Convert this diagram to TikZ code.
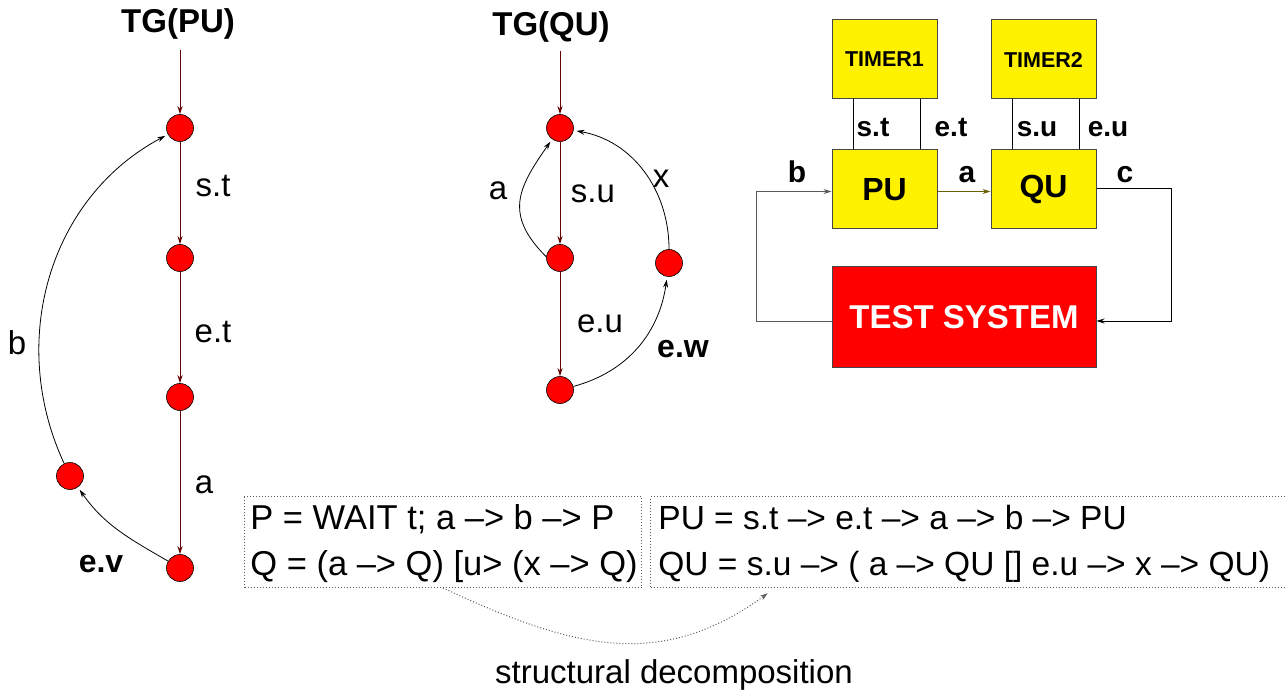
\documentclass[tikz,border=0pt]{standalone}
\usepackage{fontspec}
\setmainfont{Liberation Sans}
\usetikzlibrary{arrows.meta}

\definecolor{tgline}{RGB}{100,0,0}
\definecolor{aline}{RGB}{105,95,0}
\definecolor{fbline}{RGB}{90,90,90}
\definecolor{boxedge}{RGB}{70,70,70}

\tikzset{
    state/.style={circle, draw=black, fill=red, minimum size=27pt, inner sep=0pt, line width=0.6pt},
    lbl/.style={font=\fontsize{33}{40}\selectfont, anchor=base, inner sep=0pt},
    blbl/.style={font=\fontsize{32}{40}\selectfont\bfseries, anchor=base, inner sep=0pt},
    klbl/.style={font=\fontsize{28}{34}\selectfont\bfseries, anchor=base, inner sep=0pt},
    title/.style={font=\fontsize{33}{40}\selectfont\bfseries, anchor=base, inner sep=4pt},
    tedge/.style={->, draw=tgline, line width=1pt},
    cedge/.style={->, draw=black, line width=0.8pt, shorten >=3pt},
    block/.style={draw=boxedge, fill=yellow, line width=1pt, minimum width=105pt, minimum height=79pt, inner sep=0pt},
    eqbox/.style={draw=black!65, dash pattern=on 1pt off 2pt, line width=1pt, inner sep=0pt},
    eq/.style={anchor=base west, inner sep=0pt}
}

\begin{document}
\begin{tikzpicture}[
    x=1pt, y=1pt,
    >={Stealth[length=8pt,width=5pt]},
    line width=0.8pt
]
\useasboundingbox (0,0) rectangle (1287,-692);

% TG(PU)
\node[title] (tgpu) at (178,-33) {TG(PU)};
\node[state] (p1) at (180,-128) {};
\node[state] (p2) at (180,-258) {};
\node[state] (p3) at (180,-397) {};
\node[state] (p4) at (180,-568) {};
\node[state] (p5) at (70,-476) {};

\draw[tedge, shorten <=6pt] (tgpu.south -| p1) -- (p1);
\draw[tedge] (p1) -- (p2);
\draw[tedge] (p2) -- (p3);
\draw[tedge] (p3) -- (p4);
\draw[cedge] (p4) to[out=150, in=-55] (p5);
\draw[cedge] (p5) to[out=115, in=208] (p1);

\node[lbl] (lst) at (213,-197) {s.t};
\node[lbl] (let) at (213,-343) {e.t};
\node[lbl] (la) at (204,-493) {a};
\node[lbl] (lb) at (17,-354) {b};
\node[blbl] (lev) at (101,-572) {e.v};

% TG(QU)
\node[title] (tgqu) at (551,-36) {TG(QU)};
\node[state] (q1) at (560,-128) {};
\node[state] (q2) at (560,-258) {};
\node[state] (q3) at (560,-390) {};
\node[state] (q4) at (669,-263) {};

\draw[tedge, shorten <=4pt] (tgqu.south -| q1) -- (q1);
\draw[tedge] (q1) -- (q2);
\draw[tedge] (q2) -- (q3);
\draw[cedge] (q2.175) to[out=135, in=235, looseness=1.3] (q1);
\draw[cedge] (q3) to[out=15, in=262] (q4);
\draw[cedge] (q4) to[out=90, in=-10] (q1);

\node[lbl] (qa) at (498,-200) {a};
\node[lbl] (qsu) at (593,-203) {s.u};
\node[lbl] (qx) at (661,-188) {x};
\node[lbl] (qeu) at (600,-333) {e.u};
\node[blbl] (qew) at (683,-358) {e.w};

% block diagram
\node[block, font=\fontsize{21.5}{25}\selectfont\bfseries] (tm1) at (884.5,-59.5) {TIMER1};
\node[block, font=\fontsize{21.5}{25}\selectfont\bfseries] (tm2) at (1043.5,-59.5) {TIMER2};
\node[block, font=\fontsize{32}{38}\selectfont\bfseries] (pu) at (884.5,-189.5) {PU};
\node[block, font=\fontsize{32}{38}\selectfont\bfseries] (qu) at (1043.5,-189.5) {QU};
\node[draw=boxedge, fill=red, text=white, line width=1pt, minimum width=264pt, minimum height=100pt,
      font=\fontsize{33}{40}\selectfont\bfseries] (ts) at (964,-317) {TEST SYSTEM};

\draw ([xshift=-31.5pt]tm1.south) -- ([xshift=-31.5pt]pu.north);
\draw ([xshift=35.5pt]tm1.south) -- ([xshift=35.5pt]pu.north);
\draw ([xshift=-31.5pt]tm2.south) -- ([xshift=-31.5pt]qu.north);
\draw ([xshift=35.5pt]tm2.south) -- ([xshift=35.5pt]qu.north);

\draw[->, draw=aline] ([yshift=-2pt]pu.east) -- ([yshift=-2pt]qu.west);
\draw[->, draw=fbline] ([yshift=-4pt]ts.west) -- ++(-75,0) |- ([yshift=-2pt]pu.west);
\draw[->] ([yshift=1.5pt]qu.east) -- ++(75,0) |- ([yshift=-4pt]ts.east);

\node[klbl] (kst) at (873,-137) {s.t};
\node[klbl] (ket) at (951,-137) {e.t};
\node[klbl] (ksu) at (1037,-137) {s.u};
\node[klbl] (keu) at (1108,-137) {e.u};
\node[klbl, font=\fontsize{30}{36}\selectfont\bfseries] (kb) at (797,-183) {b};
\node[klbl, font=\fontsize{30}{36}\selectfont\bfseries] (ka) at (967,-183) {a};
\node[klbl, font=\fontsize{30}{36}\selectfont\bfseries] (kc) at (1125,-183) {c};

% equations
\node[eqbox, minimum width=397pt, minimum height=91pt, anchor=north west] (lbox) at (244,-496) {};
\node[eqbox, minimum width=645pt, minimum height=91pt, anchor=north west] (rbox) at (650,-496) {};

\node[eq, font=\fontsize{34.5}{40}\selectfont] (eqp) at (250,-529) {P = WAIT t; a \textendash> b \textendash> P};
\node[eq, font=\fontsize{34.5}{40}\selectfont] (eqq) at (250,-575) {Q = (a \textendash> Q) [u> (x \textendash> Q)};
\node[eq, font=\fontsize{33.5}{40}\selectfont] (eqpu) at (658,-529) {PU = s.t \textendash> e.t \textendash> a \textendash> b \textendash> PU};
\node[eq, font=\fontsize{33.5}{40}\selectfont] (eqqu) at (658,-575) {QU = s.u \textendash> ( a \textendash> QU [] e.u \textendash> x \textendash> QU)};

\draw[->, draw=black!65, dash pattern=on 1pt off 2pt, line width=1pt, shorten >=9pt]
    (lbox.south) to[out=-25, in=216, looseness=1.1] ([xshift=125pt]rbox.south west);

\node[lbl, font=\fontsize{33}{40}\selectfont] (sd) at (674,-683) {structural decomposition};

\end{tikzpicture}
\end{document}
